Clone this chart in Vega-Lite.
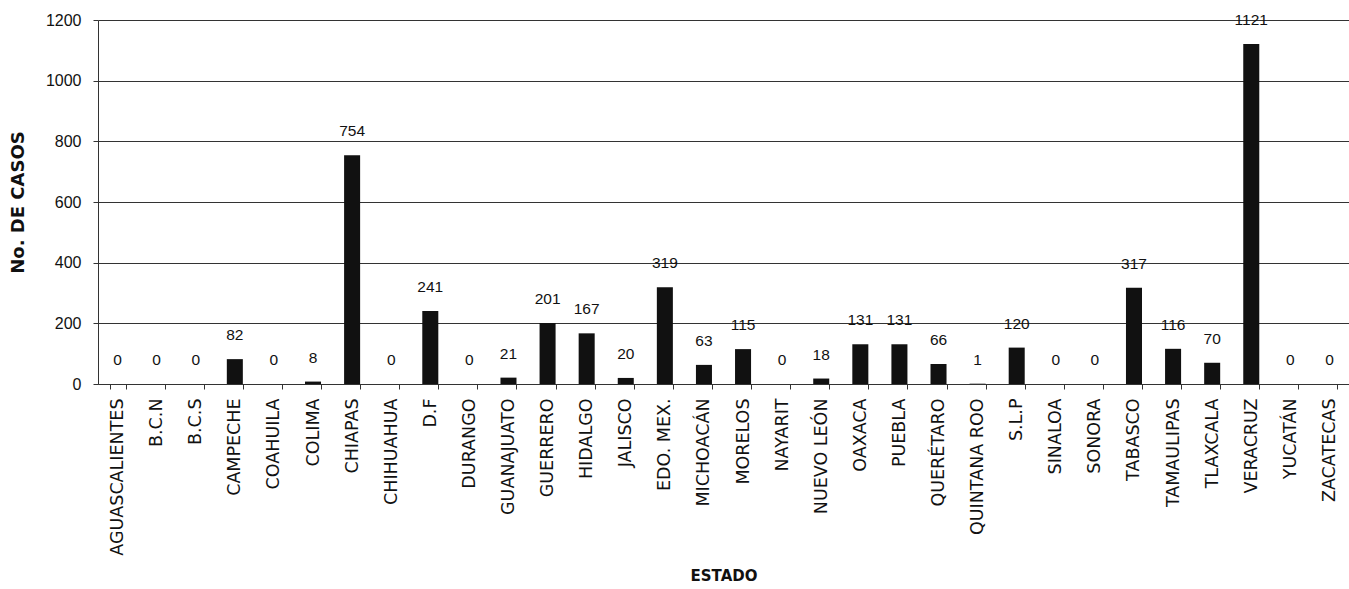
{
  "$schema": "https://vega.github.io/schema/vega-lite/v6.json",
  "autosize": {"type": "none"},
  "padding": {"left": 98, "top": 20, "right": 0, "bottom": 205},
  "width": 1251,
  "height": 364,
  "background": "white",
  "config": {"view": {"stroke": null}, "font": "Liberation Sans"},
  "data": {"values": [
    {"estado": "AGUASCALIENTES", "casos": 0},
    {"estado": "B.C.N", "casos": 0},
    {"estado": "B.C.S", "casos": 0},
    {"estado": "CAMPECHE", "casos": 82},
    {"estado": "COAHUILA", "casos": 0},
    {"estado": "COLIMA", "casos": 8},
    {"estado": "CHIAPAS", "casos": 754},
    {"estado": "CHIHUAHUA", "casos": 0},
    {"estado": "D.F", "casos": 241},
    {"estado": "DURANGO", "casos": 0},
    {"estado": "GUANAJUATO", "casos": 21},
    {"estado": "GUERRERO", "casos": 201},
    {"estado": "HIDALGO", "casos": 167},
    {"estado": "JALISCO", "casos": 20},
    {"estado": "EDO. MEX.", "casos": 319},
    {"estado": "MICHOACÁN", "casos": 63},
    {"estado": "MORELOS", "casos": 115},
    {"estado": "NAYARIT", "casos": 0},
    {"estado": "NUEVO LEÓN", "casos": 18},
    {"estado": "OAXACA", "casos": 131},
    {"estado": "PUEBLA", "casos": 131},
    {"estado": "QUERÉTARO", "casos": 66},
    {"estado": "QUINTANA ROO", "casos": 1},
    {"estado": "S.L.P", "casos": 120},
    {"estado": "SINALOA", "casos": 0},
    {"estado": "SONORA", "casos": 0},
    {"estado": "TABASCO", "casos": 317},
    {"estado": "TAMAULIPAS", "casos": 116},
    {"estado": "TLAXCALA", "casos": 70},
    {"estado": "VERACRUZ", "casos": 1121},
    {"estado": "YUCATÁN", "casos": 0},
    {"estado": "ZACATECAS", "casos": 0}
  ]},
  "encoding": {
    "x": {
      "field": "estado", "type": "nominal", "sort": null,
      "scale": {"paddingInner": 0.59, "paddingOuter": 0.295},
      "axis": {
        "title": "ESTADO", "titleFont": "DejaVu Sans", "titleFontSize": 15, "titleFontWeight": "bold",
        "titleColor": "#111", "titlePadding": 13,
        "labelAngle": -90, "labelFont": "DejaVu Sans", "labelFontSize": 17.5, "labelColor": "#111", "labelPadding": 9,
        "tickBand": "extent", "tickColor": "#333", "tickSize": 5, "domainColor": "#333"
      }
    },
    "y": {
      "field": "casos", "type": "quantitative",
      "scale": {"domain": [0, 1200], "nice": false},
      "axis": {
        "title": "No. DE CASOS", "titleFont": "DejaVu Sans", "titleFontSize": 18, "titleFontWeight": "bold", "titleColor": "#111",
        "titlePadding": 18, "values": [0, 200, 400, 600, 800, 1000, 1200], "format": "d",
        "labelFont": "Liberation Sans", "labelFontSize": 16, "labelColor": "#111", "labelPadding": 12,
        "grid": true, "gridColor": "#333", "gridWidth": 1,
        "tickColor": "#333", "tickSize": 5, "domainColor": "#333"
      }
    }
  },
  "layer": [
    {"mark": {"type": "bar", "color": "#111"}},
    {"mark": {"type": "text", "baseline": "middle", "dy": -24, "fontSize": 15.5, "font": "Liberation Sans", "color": "#111"},
     "encoding": {"text": {"field": "casos", "type": "quantitative"}}}
  ]
}
